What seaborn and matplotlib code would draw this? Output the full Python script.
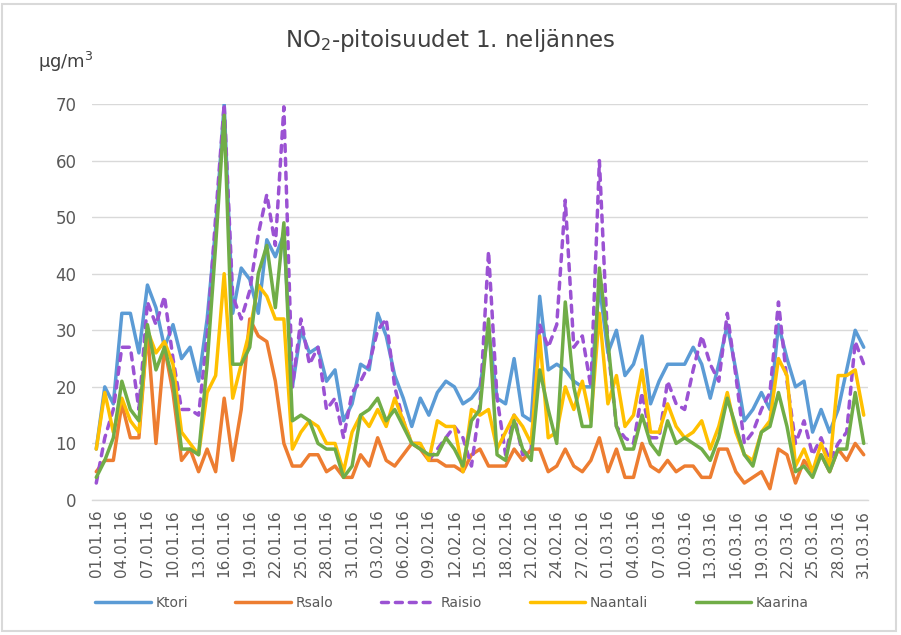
import numpy as np
import pandas as pd
import matplotlib
matplotlib.use("Agg")
import matplotlib.pyplot as plt
import seaborn as sns
from matplotlib.patches import Rectangle

# ---------------- data ----------------
stations = ["Ktori", "Rsalo", "Raisio", "Naantali", "Kaarina"]
dates = pd.date_range("2016-01-01", "2016-03-31", freq="D")
day_labels = [d.strftime("%d.%m.%y") for d in dates]

ktori = [9, 20, 17, 33, 33, 26, 38, 34, 27, 31, 25, 27, 21, 32, 48, 70, 33, 41, 39, 33,
         46, 43, 47, 20, 30, 26, 27, 21, 23, 14, 17, 24, 23, 33, 29, 22, 18, 13, 18, 15,
         19, 21, 20, 17, 18, 20, 30, 18, 17, 25, 15, 14, 36, 23, 24, 23, 21, 20, 20, 38,
         26, 30, 22, 24, 29, 17, 21, 24, 24, 24, 27, 24, 18, 24, 31, 23, 14, 16, 19, 16,
         31, 25, 20, 21, 12, 16, 12, 16, 23, 30, 27]
rsalo = [5, 7, 7, 17, 11, 11, 30, 10, 27, 19, 7, 9, 5, 9, 5, 18, 7, 16, 32, 29,
         28, 21, 10, 6, 6, 8, 8, 5, 6, 4, 4, 8, 6, 11, 7, 6, 8, 10, 9, 7,
         7, 6, 6, 5, 8, 9, 6, 6, 6, 9, 7, 9, 9, 5, 6, 9, 6, 5, 7, 11,
         5, 9, 4, 4, 10, 6, 5, 7, 5, 6, 6, 4, 4, 9, 9, 5, 3, 4, 5, 2,
         9, 8, 3, 7, 5, 8, 5, 9, 7, 10, 8]
raisio = [3, 11, 16, 27, 27, 16, 35, 31, 36, 25, 16, 16, 15, 29, 50, 70, 36, 32, 37, 47,
          54, 45, 69.5, 20, 32, 24, 27, 16, 18, 11, 19, 21, 24, 30, 32, 20, 14, 10, 10, 7,
          9, 11, 13, 11, 6, 17, 44, 18, 8, 15, 8, 9, 31, 27, 31, 53, 27, 29, 20, 60,
          27, 13, 11, 10, 19, 11, 11, 21, 17, 16, 23, 29, 24, 21, 33, 22, 10, 12, 16, 19,
          35, 21, 10, 14, 8, 11, 7, 10, 12, 28, 24]
naantali = [9, 19, 12, 18, 14, 12, 30, 26, 28, 24, 12, 10, 8, 19, 22, 40, 18, 24, 30, 38,
            36, 32, 32, 9, 12, 14, 13, 10, 10, 5, 12, 15, 13, 16, 13, 18, 14, 10, 10, 7,
            14, 13, 13, 5, 16, 15, 16, 9, 12, 15, 13, 10, 29, 11, 12, 20, 16, 21, 14, 33,
            17, 22, 13, 15, 23, 12, 12, 17, 13, 11, 12, 14, 9, 13, 19, 12, 8, 7, 12, 14,
            25, 22, 6, 9, 5, 10, 6, 22, 22, 23, 15]
kaarina = [4, 7, 11, 21, 16, 14, 31, 23, 27, 21, 9, 9, 8, 24, 45, 68, 24, 24, 27, 40,
           45, 34, 49, 14, 15, 14, 10, 9, 9, 4, 6, 15, 16, 18, 14, 16, 13, 10, 9, 8,
           8, 11, 9, 6, 14, 16, 32, 8, 7, 14, 9, 7, 23, 16, 10, 35, 20, 13, 13, 41,
           28, 13, 9, 9, 15, 10, 8, 14, 10, 11, 10, 9, 7, 11, 18, 13, 8, 6, 12, 13,
           19, 13, 5, 6, 4, 8, 5, 9, 9, 19, 10]

series = [ktori, rsalo, raisio, naantali, kaarina]
colors = ["#5B9BD5", "#ED7D31", "#9B52D3", "#FFC000", "#70AD47"]

# ---------------- figure ----------------
sns.set_theme(style="white")
plt.rcParams["font.family"] = ["DejaVu Sans"]

W, H = 901, 635
fig = plt.figure(figsize=(W / 100, H / 100), dpi=100)
ax_l, ax_r, ax_t, ax_b = 92, 868, 104, 500
ax = fig.add_axes([ax_l / W, (H - ax_b) / H, (ax_r - ax_l) / W, (ax_b - ax_t) / H])

x = np.arange(len(day_labels))
lw = 2.5
for name, vals, col in zip(stations, series, colors):
    if name == "Raisio":
        sns.lineplot(x=x, y=vals, ax=ax, color=col, linewidth=lw,
                     linestyle=(0, (2.0, 2.0)), dash_capstyle="round", label=name)
    else:
        sns.lineplot(x=x, y=vals, ax=ax, color=col, linewidth=lw,
                     solid_joinstyle="round", label=name)
handles, lbls = ax.get_legend_handles_labels()
ax.get_legend().remove()

ax.set_xlim(-0.5, len(x) - 0.5)
ax.set_ylim(0, 70)
ax.set_yticks(np.arange(0, 71, 10))
ax.yaxis.grid(True, color="#D9D9D9", linewidth=1.0)
ax.xaxis.grid(False)
ax.set_axisbelow(True)
for s in ["top", "right", "left"]:
    ax.spines[s].set_visible(False)
ax.spines["bottom"].set_color("#D9D9D9")
ax.spines["bottom"].set_linewidth(1.0)

ax.set_xticks(x[::3])
ax.set_xticklabels(day_labels[::3], rotation=90, fontsize=11, color="#595959")
ax.tick_params(axis="x", length=0, pad=7)
ax.tick_params(axis="y", length=0, pad=11, labelsize=12, labelcolor="#595959")
ax.set_xlabel("")
ax.set_ylabel("")

# title and unit
fig.text(0.5, (H - 40) / H, r"NO$_2$-pitoisuudet 1. neljännes", ha="center", va="center",
         fontsize=16.5, color="#404040")
fig.text(38 / W, (H - 62) / H, r"µg/m$^3$", ha="left", va="center", fontsize=13,
         color="#404040")

leg = fig.legend(handles, lbls, loc="center", bbox_to_anchor=(452 / W, (H - 603) / H),
                 ncol=5, frameon=False, fontsize=10, handlelength=4.0,
                 handletextpad=0.35, columnspacing=3.4)
for t in leg.get_texts():
    t.set_color("#595959")

# chart border
fig.patches.append(Rectangle((1.5 / W, 4 / H), (896 - 1.5) / W, (631 - 4) / H,
                             transform=fig.transFigure, fill=False,
                             edgecolor="#D9D9D9", linewidth=1.5))

fig.savefig("out.png", dpi=100)
